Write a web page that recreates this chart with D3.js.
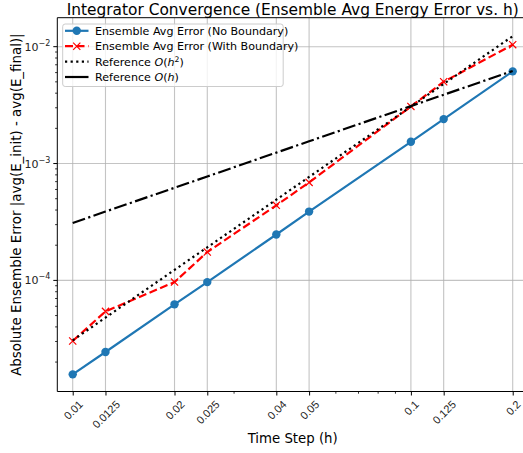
<!DOCTYPE html>
<html>
<head>
<meta charset="utf-8">
<script src="https://cdn.jsdelivr.net/npm/d3@7"></script>
<style>
  html, body { margin: 0; padding: 0; background: #fff; }
  svg { display: block; font-family: "DejaVu Sans", sans-serif; }
</style>
</head>
<body>
<div id="chart"></div>
<script>
// ---------- data ----------
const stepSizes = [0.01, 0.0125, 0.02, 0.025, 0.04, 0.05, 0.1, 0.125, 0.2];
const tickLabels = ["0.01", "0.0125", "0.02", "0.025", "0.04", "0.05", "0.1", "0.125", "0.2"];
const errNoBoundary = [1.57e-5, 2.44e-5, 6.24e-5, 9.67e-5, 2.47e-4, 3.88e-4, 1.535e-3, 2.40e-3, 6.15e-3];
const errWithBoundary = [3.03e-5, 5.43e-5, 9.67e-5, 1.75e-4, 4.39e-4, 6.89e-4, 3.08e-3, 5.01e-3, 1.04e-2];
const refOh2 = [3.07e-5, 4.80e-5, 1.23e-4, 1.92e-4, 4.91e-4, 7.68e-4, 3.07e-3, 4.80e-3, 1.23e-2];
const refOh = [3.1e-4, 3.88e-4, 6.2e-4, 7.75e-4, 1.24e-3, 1.55e-3, 3.1e-3, 3.88e-3, 6.2e-3];
const yMajorExps = [-4, -3, -2];
const seriesNames = ["Ensemble Avg Error (No Boundary)", "Ensemble Avg Error (With Boundary)", "Reference O(h2)", "Reference O(h)"];

// ---------- layout ----------
const W = 523, H = 453;
const L = 57.3, R = 528.1, T = 17.7, B = 391.5;

const svg = d3.select("#chart").append("svg").attr("width", W).attr("height", H);

const x = d3.scaleLog().domain([0.009004, 0.2221]).range([L, R]);
const y = d3.scaleLog().domain([1.12e-5, 0.0177]).range([B, T]);

// clip
svg.append("defs").append("clipPath").attr("id", "clip")
  .append("rect").attr("x", L).attr("y", T).attr("width", R - L).attr("height", B - T);

// grid
const grid = svg.append("g").attr("clip-path", "url(#clip)");
grid.selectAll("line.vx").data(stepSizes).enter().append("line")
  .attr("x1", d => x(d)).attr("x2", d => x(d)).attr("y1", T).attr("y2", B)
  .attr("stroke", "#b0b0b0").attr("stroke-width", 1.1).attr("opacity", 0.75);
grid.selectAll("line.hy").data(yMajorExps).enter().append("line")
  .attr("x1", L).attr("x2", R).attr("y1", d => y(Math.pow(10, d))).attr("y2", d => y(Math.pow(10, d)))
  .attr("stroke", "#b0b0b0").attr("stroke-width", 1.1).attr("opacity", 0.75);

// axes
const xMinor = [0.03, 0.06, 0.07, 0.08, 0.09];
const xAxis = d3.axisBottom(x).tickValues(stepSizes).tickFormat((d, i) => tickLabels[i]).tickSizeOuter(0).tickSize(4);
const gx = svg.append("g").attr("transform", `translate(0,${B})`).call(xAxis);
gx.select(".domain").remove();
gx.selectAll(".tick line").attr("stroke", "#000").attr("stroke-width", 1);
gx.selectAll(".tick text").each(function() {
  const t = d3.select(this);
  t.attr("font-size", 11).attr("fill", "#222").attr("text-anchor", "middle").attr("dy", null)
   .attr("dominant-baseline", "central");
  const w = this.getComputedTextLength();
  const hh = 11;
  const bb = (w + hh) / Math.SQRT2;
  t.attr("y", 0).attr("transform", `translate(0,${7 + bb / 2}) rotate(-45)`);
});
const gxm = svg.append("g").attr("transform", `translate(0,${B})`);
gxm.selectAll("line").data(xMinor).enter().append("line")
  .attr("x1", d => x(d)).attr("x2", d => x(d)).attr("y1", 0).attr("y2", 2.2)
  .attr("stroke", "#000").attr("stroke-width", 0.8);

// y minor ticks
const yMinor = [];
[-5, -4, -3, -2].forEach(e => { for (let k = 2; k <= 9; k++) { const v = k * Math.pow(10, e); if (v > 1.12e-5 && v < 0.0177) yMinor.push(v); } });
const gym = svg.append("g");
gym.selectAll("line").data(yMinor).enter().append("line")
  .attr("x1", L - 2.2).attr("x2", L).attr("y1", d => y(d)).attr("y2", d => y(d))
  .attr("stroke", "#000").attr("stroke-width", 0.8);
const gy = svg.append("g");
yMajorExps.forEach(e => {
  const yy = y(Math.pow(10, e));
  gy.append("line").attr("x1", L - 4).attr("x2", L).attr("y1", yy).attr("y2", yy).attr("stroke", "#000").attr("stroke-width", 1);
  const t = gy.append("text").attr("x", L - 7).attr("y", yy + 4).attr("text-anchor", "end")
    .attr("font-size", 11).attr("fill", "#222");
  t.append("tspan").text("10");
  t.append("tspan").attr("dy", -5).attr("font-size", 8).text("\u2212" + Math.abs(e));
});

// spines
svg.append("line").attr("x1", L).attr("x2", L).attr("y1", T).attr("y2", B).attr("stroke", "#000").attr("stroke-width", 1);
svg.append("line").attr("x1", L).attr("x2", R).attr("y1", B).attr("y2", B).attr("stroke", "#000").attr("stroke-width", 1);
svg.append("line").attr("x1", L).attr("x2", R).attr("y1", T).attr("y2", T).attr("stroke", "#000").attr("stroke-width", 1);
svg.append("line").attr("x1", R).attr("x2", R).attr("y1", T).attr("y2", B).attr("stroke", "#000").attr("stroke-width", 1);

// lines
const plot = svg.append("g").attr("clip-path", "url(#clip)");
const lineGen = vals => d3.line().x((d, i) => x(stepSizes[i])).y(d => y(d))(vals);

plot.append("path").attr("d", lineGen(errNoBoundary)).attr("fill", "none")
  .attr("stroke", "#1f77b4").attr("stroke-width", 2.2);
plot.selectAll("circle.nb").data(errNoBoundary).enter().append("circle")
  .attr("cx", (d, i) => x(stepSizes[i])).attr("cy", d => y(d)).attr("r", 4.2).attr("fill", "#1f77b4");

plot.append("path").attr("d", lineGen(errWithBoundary)).attr("fill", "none")
  .attr("stroke", "#ff0000").attr("stroke-width", 2.2).attr("stroke-dasharray", "8,3.5");
const xs = 3.6;
errWithBoundary.forEach((d, i) => {
  const cx = x(stepSizes[i]), cy = y(d);
  plot.append("path").attr("d", `M${cx - xs},${cy - xs}L${cx + xs},${cy + xs}M${cx - xs},${cy + xs}L${cx + xs},${cy - xs}`)
    .attr("stroke", "#ff0000").attr("stroke-width", 1.2).attr("fill", "none");
});

plot.append("path").attr("d", lineGen(refOh2)).attr("fill", "none")
  .attr("stroke", "#000").attr("stroke-width", 2.2).attr("stroke-dasharray", "2.2,3.4");
plot.append("path").attr("d", lineGen(refOh)).attr("fill", "none")
  .attr("stroke", "#000").attr("stroke-width", 2.2).attr("stroke-dasharray", "13,3.4,2.2,3.4");

// legend
const lg = svg.append("g");
lg.append("rect").attr("x", 62.7).attr("y", 24).attr("width", 220.5).attr("height", 62.5).attr("rx", 2.5)
  .attr("fill", "#fff").attr("fill-opacity", 0.8).attr("stroke", "#cccccc").attr("stroke-width", 1);
const ly = [30.8, 46.2, 61.6, 77];
const lx1 = 65, lx2 = 88.5, ltx = 95;
// entry 1
lg.append("line").attr("x1", lx1).attr("x2", lx2).attr("y1", ly[0]).attr("y2", ly[0]).attr("stroke", "#1f77b4").attr("stroke-width", 2.2);
lg.append("circle").attr("cx", (lx1 + lx2) / 2).attr("cy", ly[0]).attr("r", 4.2).attr("fill", "#1f77b4");
// entry 2
lg.append("line").attr("x1", lx1).attr("x2", lx2).attr("y1", ly[1]).attr("y2", ly[1]).attr("stroke", "#ff0000").attr("stroke-width", 2.2).attr("stroke-dasharray", "8,3.5");
{
  const cx = (lx1 + lx2) / 2, cy = ly[1];
  lg.append("path").attr("d", `M${cx - xs},${cy - xs}L${cx + xs},${cy + xs}M${cx - xs},${cy + xs}L${cx + xs},${cy - xs}`)
    .attr("stroke", "#ff0000").attr("stroke-width", 1.2);
}
// entry 3
lg.append("line").attr("x1", lx1).attr("x2", lx2).attr("y1", ly[2]).attr("y2", ly[2]).attr("stroke", "#000").attr("stroke-width", 2.2).attr("stroke-dasharray", "2.2,3.4");
// entry 4
lg.append("line").attr("x1", lx1).attr("x2", lx2).attr("y1", ly[3]).attr("y2", ly[3]).attr("stroke", "#000").attr("stroke-width", 2.2);

const fs = 11.1;
lg.append("text").attr("x", ltx).attr("y", ly[0] + 4).attr("font-size", fs).text(seriesNames[0]);
lg.append("text").attr("x", ltx).attr("y", ly[1] + 4).attr("font-size", fs).text(seriesNames[1]);
{
  const t = lg.append("text").attr("x", ltx).attr("y", ly[2] + 4).attr("font-size", fs);
  t.append("tspan").text("Reference ");
  t.append("tspan").attr("font-style", "italic").text("O");
  t.append("tspan").text("(");
  t.append("tspan").attr("font-style", "italic").text("h");
  t.append("tspan").attr("dy", -4).attr("font-size", 7.7).text("2");
  t.append("tspan").attr("dy", 4).text(")");
}
{
  const t = lg.append("text").attr("x", ltx).attr("y", ly[3] + 4).attr("font-size", fs);
  t.append("tspan").text("Reference ");
  t.append("tspan").attr("font-style", "italic").text("O");
  t.append("tspan").text("(");
  t.append("tspan").attr("font-style", "italic").text("h");
  t.append("tspan").text(")");
}

// title and labels
svg.append("text").attr("x", (L + R) / 2).attr("y", 14.5).attr("text-anchor", "middle")
  .attr("font-size", 15.4).text("Integrator Convergence (Ensemble Avg Energy Error vs. h)");
svg.append("text").attr("x", (L + R) / 2).attr("y", 443).attr("text-anchor", "middle")
  .attr("font-size", 13.3).text("Time Step (h)");
svg.append("text").attr("transform", `translate(21,${(T + B) / 2}) rotate(-90)`).attr("text-anchor", "middle")
  .attr("font-size", 13.4).text("Absolute Ensemble Error |avg(E_init) - avg(E_final)|");
</script>
</body>
</html>
